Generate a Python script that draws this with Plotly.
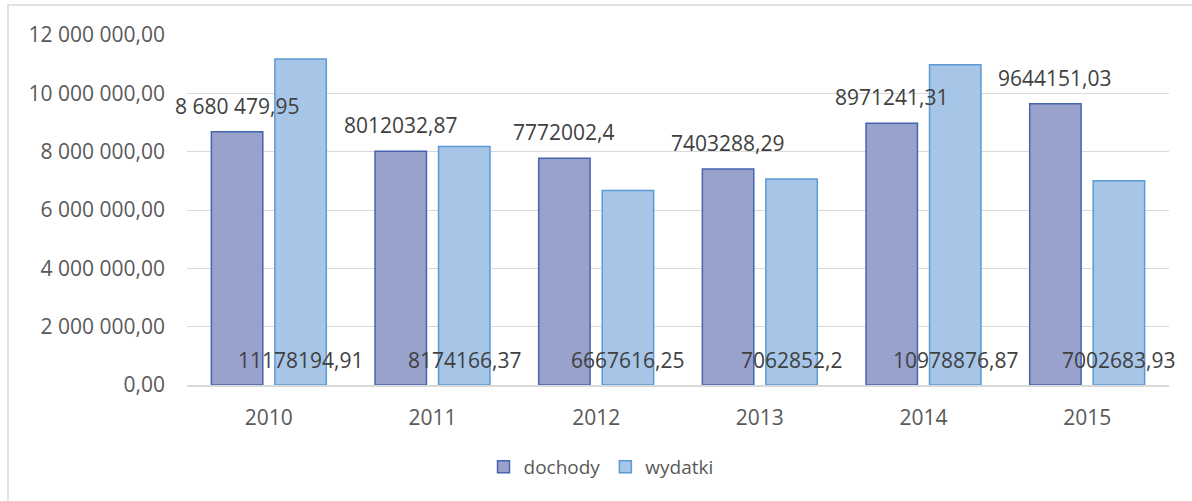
import plotly.graph_objects as go

years = ["2010", "2011", "2012", "2013", "2014", "2015"]
dochody = [8680479.95, 8012032.87, 7772002.4, 7403288.29, 8971241.31, 9644151.03]
wydatki = [11178194.91, 8174166.37, 6667616.25, 7062852.2, 10978876.87, 7002683.93]
dochody_labels = ["8 680 479,95", "8012032,87", "7772002,4", "7403288,29", "8971241,31", "9644151,03"]
wydatki_labels = ["11178194,91", "8174166,37", "6667616,25", "7062852,2", "10978876,87", "7002683,93"]

FONT = "Open Sans"

fig = go.Figure()
fig.add_trace(go.Bar(
    x=years, y=dochody, name="dochody",
    marker=dict(color="#99a1cd", line=dict(color="#4565ae", width=1.5)),
))
fig.add_trace(go.Bar(
    x=years, y=wydatki, name="wydatki",
    marker=dict(color="#a7c6e7", line=dict(color="#5b9bd5", width=1.5)),
))

# data labels: dochody above its bar, wydatki near the base of its bar
# (annotations on a category axis use the category index)
for i, (v, t) in enumerate(zip(dochody, dochody_labels)):
    fig.add_annotation(x=i, y=v, text=t, showarrow=False, xshift=-32, yshift=26,
                       yanchor="middle", font=dict(family=FONT, size=21, color="#404040"))
for i, t in enumerate(wydatki_labels):
    fig.add_annotation(x=i, y=0, text=t, showarrow=False, xshift=32, yshift=25,
                       yanchor="middle", font=dict(family=FONT, size=21, color="#404040"))

# outer chart border
fig.add_shape(type="rect", xref="paper", yref="paper",
              x0=-0.1823, x1=1.2, y0=-0.6, y1=1.0857,
              line=dict(color="#d9d9d9", width=1.5), fillcolor="rgba(0,0,0,0)", layer="below")

fig.update_layout(
    width=1192, height=501,
    margin=dict(l=187, r=23, t=35, b=116),
    paper_bgcolor="white", plot_bgcolor="white",
    barmode="group", bargap=0.224, bargroupgap=0.19,
    separators=", ",
    font=dict(family=FONT, size=19, color="#595959"),
    showlegend=True,
    legend=dict(orientation="h", x=0.4216, xanchor="center", y=-0.234, yanchor="middle",
                font=dict(family=FONT, size=19, color="#595959"), itemclick=False),
    hovermode=False,
)
fig.update_yaxes(range=[0, 12000000], dtick=2000000, tickformat=",.2f",
                 showgrid=True, gridcolor="#d9d9d9", gridwidth=1,
                 zeroline=False, showline=False, ticklabelstandoff=21, automargin=False,
                 tickfont=dict(family=FONT, size=21, color="#595959"))
fig.update_xaxes(type="category", range=[-0.5, len(years) - 0.5],
                 showline=True, linecolor="#d9d9d9", linewidth=1.5, ticks="",
                 ticklabelstandoff=13, automargin=False,
                 tickfont=dict(family=FONT, size=21, color="#595959"))

fig.write_html("out.html", config={"displayModeBar": False},
               post_script="document.body.style.margin='0';")
